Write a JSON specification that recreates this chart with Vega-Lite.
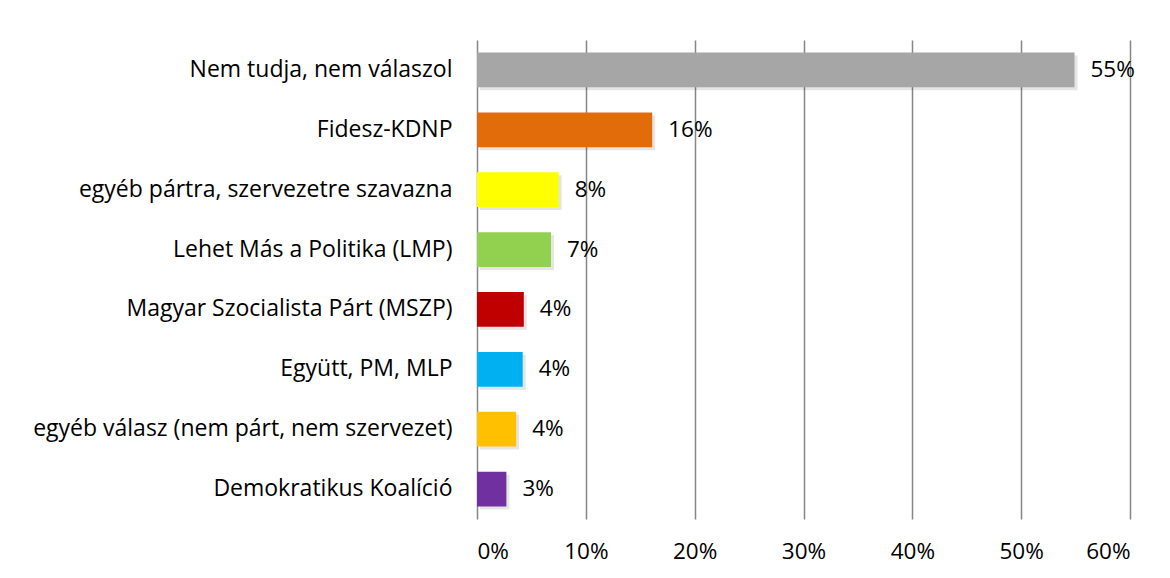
{
  "$schema": "https://vega.github.io/schema/vega-lite/v6.json",
  "width": 653,
  "height": 479,
  "autosize": {"type": "none"},
  "padding": {"left": 477, "top": 40, "right": 40, "bottom": 59},
  "background": "white",
  "config": {"view": {"stroke": null}, "font": "Open Sans"},
  "data": {
    "values": [
      {"party": "Nem tudja, nem válaszol", "value": 0.549},
      {"party": "Fidesz-KDNP", "value": 0.161},
      {"party": "egyéb pártra, szervezetre szavazna", "value": 0.075},
      {"party": "Lehet Más a Politika (LMP)", "value": 0.068},
      {"party": "Magyar Szocialista Párt (MSZP)", "value": 0.043},
      {"party": "Együtt, PM, MLP", "value": 0.042},
      {"party": "egyéb válasz (nem párt, nem szervezet)", "value": 0.036},
      {"party": "Demokratikus Koalíció", "value": 0.027}
    ]
  },
  "encoding": {
    "y": {
      "field": "party",
      "type": "nominal",
      "sort": null,
      "scale": {"paddingInner": 0.42, "paddingOuter": 0.21},
      "axis": {
        "title": null,
        "ticks": false,
        "domain": false,
        "labelFontSize": 23,
        "labelColor": "#000000",
        "labelPadding": 25,
        "labelLimit": 0
      }
    },
    "x": {
      "field": "value",
      "type": "quantitative",
      "scale": {"domain": [0, 0.6], "nice": false},
      "axis": {
        "title": null,
        "format": ".0%",
        "values": [0, 0.1, 0.2, 0.3, 0.4, 0.5, 0.6],
        "ticks": false,
        "domain": false,
        "gridColor": "#868686",
        "gridWidth": 1.5,
        "gridOpacity": 1,
        "labelFontSize": 22.5,
        "labelPadding": 21,
        "labelColor": "#000000"
      }
    }
  },
  "layer": [
    {"mark": {"type": "bar", "color": "#000000", "opacity": 0.1, "xOffset": 3, "yOffset": 3}},
    {
      "mark": {"type": "bar"},
      "encoding": {
        "color": {
          "field": "party",
          "type": "nominal",
          "scale": {
            "domain": ["Nem tudja, nem válaszol", "Fidesz-KDNP", "egyéb pártra, szervezetre szavazna", "Lehet Más a Politika (LMP)", "Magyar Szocialista Párt (MSZP)", "Együtt, PM, MLP", "egyéb válasz (nem párt, nem szervezet)", "Demokratikus Koalíció"],
            "range": ["#A6A6A6", "#E36C0A", "#FFFF00", "#92D050", "#C00000", "#00B0F0", "#FFC000", "#7030A0"]
          },
          "legend": null
        }
      }
    },
    {
      "mark": {"type": "text", "align": "left", "dx": 16, "fontSize": 22.5, "color": "#000000"},
      "encoding": {"text": {"field": "value", "format": ".0%"}}
    }
  ]
}
